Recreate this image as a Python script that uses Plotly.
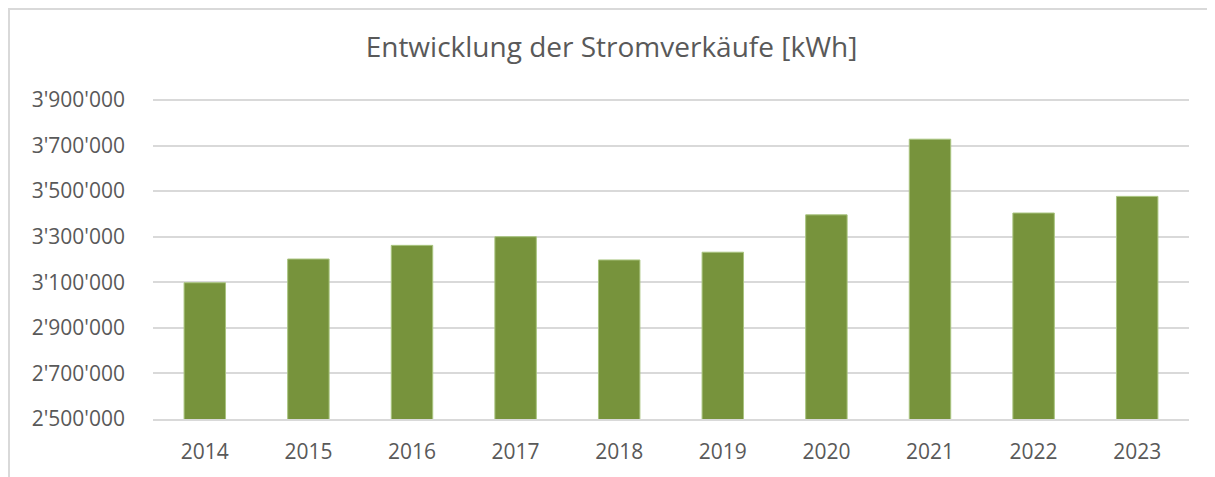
import plotly.graph_objects as go

years = ["2014", "2015", "2016", "2017", "2018", "2019", "2020", "2021", "2022", "2023"]
sales_kwh = [3098000, 3202000, 3262000, 3300000, 3198000, 3232000, 3396000, 3728000, 3404000, 3477000]

# page body has an 8px margin, so the figure is drawn 8px smaller and offset
OFF = 8
W, H = 1215 - OFF, 477 - OFF
L, R, T, B = 153 - OFF, 26, 98 - OFF, 58
pw, ph = W - L - R, H - T - B
Y0 = 2500000
PX_PER_UNIT = 319 / 1400000          # 200'000 per ~45.6 px
Y1 = Y0 + ph / PX_PER_UNIT           # a little headroom so the 3'900'000 gridline is drawn

fig = go.Figure(go.Bar(
    x=years, y=sales_kwh,
    marker=dict(color="#77933c", line=dict(color="#a9c47f", width=1)),
    width=0.4,
))

fig.update_layout(
    width=W, height=H,
    margin=dict(l=L, r=R, t=T, b=B),
    paper_bgcolor="white", plot_bgcolor="white",
    separators=".'",
    font=dict(family="Open Sans, Lato, sans-serif", color="#595959", size=21),
    title=dict(text="Entwicklung der Stromverkäufe [kWh]", x=0.5, xref="container",
               xanchor="center", y=1 - (47 - OFF) / H, yref="container", yanchor="middle",
               font=dict(size=28, color="#595959")),
    showlegend=False,
)
fig.update_yaxes(range=[Y0, Y1], dtick=200000, tick0=Y0, tickformat=",d",
                 showgrid=True, gridcolor="#d9d9d9", gridwidth=1.5, zeroline=False,
                 showline=False, ticks="", ticklabelstandoff=27)
fig.update_xaxes(showline=True, linecolor="#d9d9d9", linewidth=1.5, ticks="",
                 showgrid=False, ticklabelstandoff=13)

# outer chart border (light grey frame, open to the right and bottom of the view)
fig.add_shape(type="rect", xref="paper", yref="paper",
              x0=(1 - L) / pw, x1=(W + 30 - L) / pw,
              y0=-(B + 30) / ph, y1=(H - B - 1) / ph,
              line=dict(color="#d9d9d9", width=2), fillcolor="rgba(0,0,0,0)", layer="below")

fig.write_html("out.html")
